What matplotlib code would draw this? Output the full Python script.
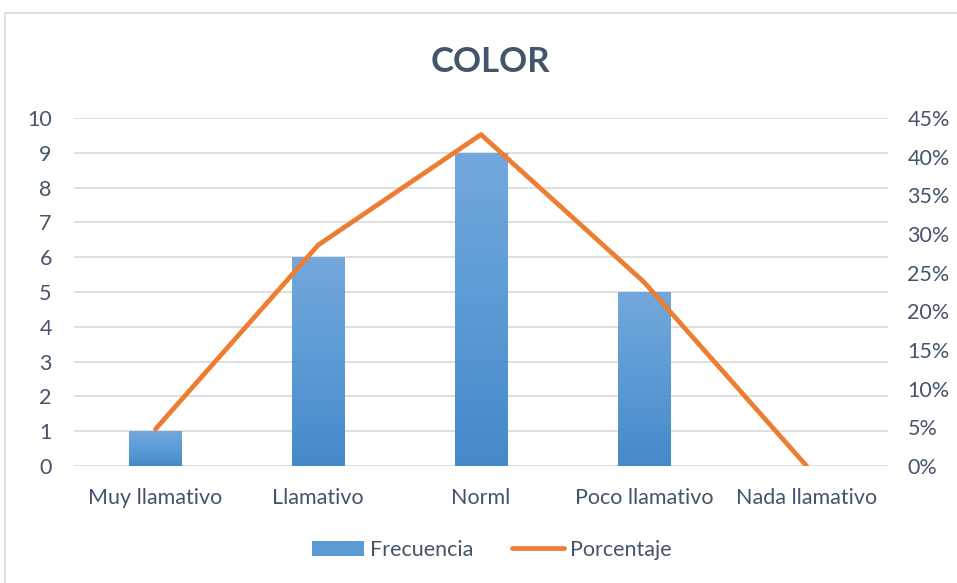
import matplotlib
matplotlib.use("Agg")
import matplotlib.pyplot as plt
import numpy as np
from matplotlib.patches import Rectangle
from matplotlib.lines import Line2D
from matplotlib.colors import LinearSegmentedColormap

categories = ["Muy llamativo", "Llamativo", "Norml", "Poco llamativo", "Nada llamativo"]
frecuencia = [1, 6, 9, 5, 0]
porcentaje = [4.76, 28.57, 42.86, 23.81, 0.0]
left_ticks = list(range(0, 11))
right_ticks = list(range(0, 50, 5))

plt.rcParams['font.family'] = ['Lato', 'DejaVu Sans']
text_color = '#44546a'
fs = 15.5

fig = plt.figure(figsize=(9.57, 5.83), dpi=100)
# outer chart border
fig.patches.append(Rectangle((5/957, -0.05), 1.0, 1 - 13/583 + 0.05, transform=fig.transFigure,
                             fill=False, edgecolor='#d9d9d9', linewidth=1.2))

ax = fig.add_axes([74/957, 1 - 466/583, (888 - 74)/957, (466 - 118)/583])
x = np.arange(len(categories))
bars = ax.bar(x, frecuencia, width=0.32, color='#5b9bd5', zorder=2)
cmap = LinearSegmentedColormap.from_list('g', ['#4689c9', '#5b9bd5', '#74a8dc'])
grad = np.linspace(0, 1, 256).reshape(-1, 1)
for b in bars:
    h = b.get_height()
    if h <= 0:
        continue
    bx, bw = b.get_x(), b.get_width()
    im = ax.imshow(grad, extent=(bx, bx + bw, 0, h), origin='lower', aspect='auto',
                   cmap=cmap, zorder=2.5)
    im.set_clip_path(b)
    b.set_facecolor('none')

ax.set_xlim(-0.5, len(categories) - 0.5)
ax.set_ylim(0, 10)
ax.set_yticks(left_ticks)
ax.set_xticks(x)
ax.set_xticklabels(categories)
ax.grid(axis='y', color='#d9d9d9', linewidth=1.2, zorder=0)
ax.set_axisbelow(True)
for s in ax.spines.values():
    s.set_visible(False)
ax.tick_params(axis='both', length=0, labelsize=fs, colors=text_color, pad=16)
ax.tick_params(axis='x', pad=16)

ax2 = ax.twinx()
ax2.plot(x, porcentaje, color='#ed7d31', linewidth=3.4, zorder=3, solid_capstyle='round')
ax2.set_ylim(0, 45)
ax2.set_yticks(right_ticks)
ax2.set_yticklabels([f"{t}%" for t in right_ticks])
for s in ax2.spines.values():
    s.set_visible(False)
ax2.tick_params(axis='y', length=0, labelsize=fs, colors=text_color, pad=14)

fig.text(490/957, 1 - 62/583, "COLOR", ha='center', va='center', fontsize=25,
         fontweight='bold', color=text_color)

handles = [Rectangle((0, 0), 1, 1, facecolor='#5b9bd5'),
           Line2D([0], [0], color='#ed7d31', linewidth=3.4, solid_capstyle='round')]
fig.legend(handles, ["Frecuencia", "Porcentaje"], loc='center', bbox_to_anchor=(492/957, 1 - 550/583),
           ncol=2, frameon=False, fontsize=fs, labelcolor=text_color, handlelength=2.4,
           handletextpad=0.3, columnspacing=1.8)

fig.savefig("out.png", dpi=100)
